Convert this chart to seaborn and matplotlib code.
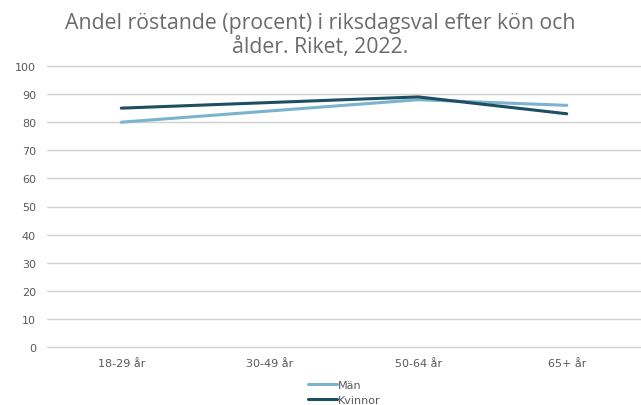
import pandas as pd
import matplotlib
matplotlib.use("Agg")
import matplotlib.pyplot as plt
import seaborn as sns

# data
aldersgrupper = ["18-29 år", "30-49 år", "50-64 år", "65+ år"]
man = [80, 84, 88, 86]
kvinnor = [85, 87, 89, 83]

df = pd.DataFrame({
    "ålder": aldersgrupper * 2,
    "procent": man + kvinnor,
    "kön": ["Män"] * len(man) + ["Kvinnor"] * len(kvinnor),
})

sns.set_theme(style="white")
plt.rcParams["font.family"] = ["DejaVu Sans"]

fig = plt.figure(figsize=(6.41, 4.06), dpi=100)
ax = fig.add_axes([47 / 641, 1 - 348 / 406, 594 / 641, 281 / 406])

sns.lineplot(data=df, x="ålder", y="procent", hue="kön",
             palette={"Män": "#7bb3cc", "Kvinnor": "#1d4e62"},
             linewidth=2.2, sort=False, ax=ax, legend=True)

ax.set_ylim(0, 100)
ax.set_xlim(-0.5, 3.5)
ax.set_yticks(range(0, 101, 10))
ax.yaxis.grid(True, color="#d0d0d0", linewidth=1)
for gl in ax.get_ygridlines():
    gl.set_clip_on(False)
ax.set_axisbelow(True)
for s in ax.spines.values():
    s.set_visible(False)
ax.tick_params(axis="both", length=0, labelsize=8, labelcolor="#595959", pad=8)
ax.set_xlabel("")
ax.set_ylabel("")

fig.suptitle("Andel röstande (procent) i riksdagsval efter kön och\nålder. Riket, 2022.",
             y=0.967, fontsize=15.3, color="#6b6b6b", linespacing=1.15,
             family="Open Sans")

leg = ax.legend(loc="upper center", bbox_to_anchor=(0.5, -0.1), ncol=1,
                frameon=False, fontsize=8, handlelength=2.6, handletextpad=0.1,
                labelspacing=0.45, borderaxespad=0)
for t in leg.get_texts():
    t.set_color("#595959")

fig.savefig("out.png", dpi=100)
